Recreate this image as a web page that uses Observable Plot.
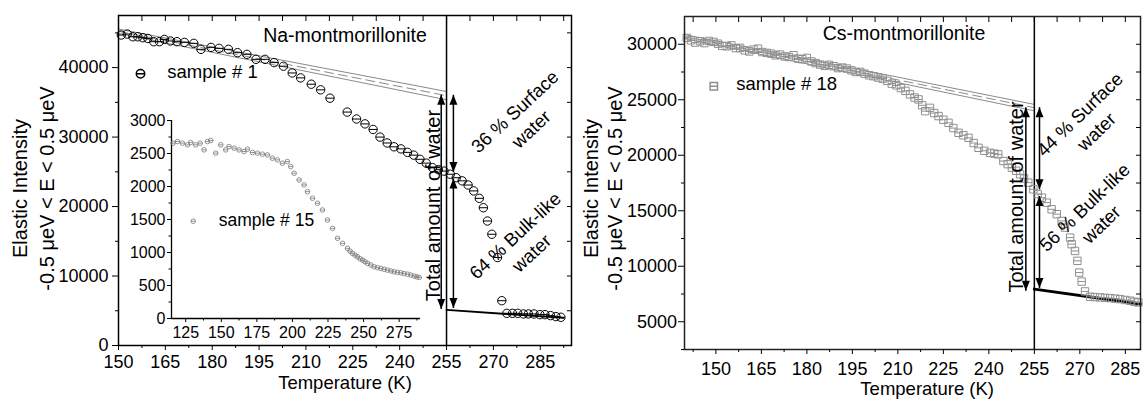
<!DOCTYPE html>
<html>
<head>
<meta charset="utf-8">
<script src="https://cdn.jsdelivr.net/npm/d3@7"></script>
<script src="https://cdn.jsdelivr.net/npm/@observablehq/plot@0.6"></script>
<style>
  body { margin: 0; background: #fff; }
  #wrap { position: relative; width: 1143px; height: 402px; font-family: "Liberation Sans", Arial, Helvetica, sans-serif; }
  #wrap > div { position: absolute; }
  #left { left: 0; top: 0; }
  #inset { left: 121px; top: 108px; }
  #right { left: 580px; top: 0; }
</style>
</head>
<body>
<div id="wrap"><div id="left"></div><div id="inset"></div><div id="right"></div></div>
<script>
// ---------------- DATA ----------------
// Na-montmorillonite, sample # 1 (Temperature K, elastic intensity)
const naT = [150.9,152.8,154.6,156.2,157.8,159.4,161.3,163.1,164.7,166.6,168.7,171.1,174.1,176.4,179.6,182.2,185.2,188.1,191.1,194.0,196.9,199.8,202.8,205.6,208.3,211.7,214.7,217.7,223.2,226.2,228.9,231.5,233.7,236.0,238.2,240.4,242.5,244.5,246.5,248.5,250.5,252.4,254.2,256.2,258.1,260.0,261.9,263.7,265.5,266.8,268.1,269.5,271.3,272.7,274.3,276.1,277.8,279.6,281.2,283.0,284.9,286.5,288.3,290.0,291.6];
const naI = [44690,44830,44440,44440,44300,44200,43730,43730,44060,43830,43730,43630,43490,42630,42910,42770,42630,42150,41910,41190,41190,40720,40200,39230,38520,37610,36800,35600,33600,32600,31900,31100,30000,29150,28600,28300,27800,27400,26800,26250,25600,25300,25100,24650,24150,23700,23100,22250,21180,19830,17920,16010,12660,6450,4630,4630,4630,4540,4540,4540,4440,4440,4300,4160,4060];

// Inset: sample # 15
const inT = [116.1,119.2,122.7,126.2,128.5,132.0,135.1,137.9,140.3,142.6,146.1,149.6,153.1,155.4,159.0,162.5,166.0,168.4,171.9,175.4,178.9,182.4,185.9,189.4,192.9,196.4,198.8,201.2,204.7,208.2,210.6,214.1,217.6,221.1,224.6,228.2,231.7,235.2,238.7,240.5,242.2,244.0,245.7,247.5,249.3,251.0,252.8,255.1,257.4,259.8,262.1,264.5,266.8,269.2,271.5,273.8,276.2,278.5,280.9,283.2,285.6,287.4,289.1];
const inI = [2657,2681,2657,2631,2666,2631,2657,2555,2681,2697,2505,2631,2555,2605,2580,2555,2530,2566,2515,2505,2490,2479,2429,2403,2353,2378,2302,2201,2100,2024,1922,1822,1746,1644,1492,1366,1215,1139,1063,1020,987,960,935,905,885,860,835,810,783,770,759,745,733,720,707,700,692,680,672,658,642,632,622];

// Cs-montmorillonite, sample # 18
const csT = [140.4,141.8,143.2,144.8,146.2,147.7,149.2,150.7,152.1,153.6,155.1,156.6,158.0,159.5,161.0,162.4,163.9,165.3,166.8,168.3,169.7,171.2,172.7,174.1,175.6,177.1,178.5,180.0,181.5,182.9,184.4,185.9,187.3,188.8,190.3,191.7,193.2,194.7,196.1,197.6,199.0,200.5,202.0,203.5,205.0,206.5,208.0,209.5,211.0,212.5,214.0,215.5,216.8,218.0,219.0,220.6,222.0,223.4,225.0,226.7,228.3,230.0,231.6,233.3,235.0,236.6,238.5,240.4,241.8,243.1,244.8,246.2,247.6,249.0,250.3,251.6,253.0,254.7,256.1,257.5,259.1,260.7,262.4,264.0,265.1,266.8,267.3,268.4,269.2,269.8,270.6,271.7,273.4,275.0,276.7,278.3,280.0,281.7,283.3,285.0,286.6,288.0,289.3];
const csI = [30570,30350,30150,30270,30100,30300,30210,30050,29850,29820,29900,29650,29670,29450,29350,29520,29600,29300,29220,29150,29000,29070,28900,28850,29010,28700,28650,28770,28450,28300,28170,28050,28150,28020,27850,27900,27810,27650,27500,27510,27350,27200,27120,27000,26900,26700,26450,26300,26050,25800,25480,25200,25030,24500,23970,24270,23800,23530,23200,22920,22450,22020,21800,21570,21100,20670,20400,20220,20150,20080,19480,19200,18880,18600,18280,17900,17530,16930,16500,16180,15730,15130,14690,14080,13480,12580,11990,11380,10490,9430,8620,7730,7250,7220,7190,7150,7130,7080,7040,6960,6890,6800,6740];

// Extrapolated low-T lines (upper, middle dashed, lower) and high-T baseline
const naUpper = [{T: 150, I: 45550}, {T: 255, I: 36560}];
const naMid   = [{T: 150, I: 45230}, {T: 255, I: 35960}];
const naLower = [{T: 150, I: 44920}, {T: 255, I: 35370}];
const naBase  = [{T: 255, I: 5120},  {T: 292.4, I: 3970}];
const csUpper = [{T: 139.7, I: 30870}, {T: 255, I: 24580}];
const csMid   = [{T: 139.7, I: 30690}, {T: 255, I: 24290}];
const csLower = [{T: 139.7, I: 30510}, {T: 255, I: 24000}];
const csBase  = [{T: 255, I: 7940},  {T: 290, I: 6590}];

// Double arrows (T, bottom I1, top I2)
const naArrows = [{T: 253.3, I1: 5260, I2: 36090}, {T: 257.2, I1: 24990, I2: 36090}, {T: 257.2, I1: 5400, I2: 24040}];
const csArrows = [{T: 252.2, I1: 7790, I2: 24335}, {T: 256.7, I1: 16930, I2: 24335}, {T: 256.7, I1: 8030, I2: 16330}];

// Annotation texts
const naNotes = [{T: 279.2, I: 32545, text: "36 % Surface\nwater"}, {T: 279.3, I: 14695, text: "64 % Bulk-like\nwater"}];
const csNotes = [{T: 272.4, I: 22986, text: "44 % Surface\nwater"}, {T: 274.0, I: 14622, text: "56 % Bulk-like\nwater"}];
const naTotal = [{T: 251.0, I: 20143, text: "Total amount of water"}];
const csTotal = [{T: 249.2, I: 16241, text: "Total amount of water"}];

// Ticks
const naXMajor = [150,165,180,195,210,225,240,255,270,285];
const naXMinor = [157.5,172.5,187.5,202.5,217.5,232.5,247.5,262.5,277.5,292.5];
const naYMajor = [0,10000,20000,30000,40000];
const naYMinor = [5000,15000,25000,35000,45000];
const inXMajor = [125,150,175,200,225,250,275];
const inXMinor = [137.5,162.5,187.5,212.5,237.5,262.5,287.5];
const inYMajor = [0,500,1000,1500,2000,2500,3000];
const inYMinor = [250,750,1250,1750,2250,2750];
const csXMajor = [150,165,180,195,210,225,240,255,270,285];
const csXMinor = [142.5,157.5,172.5,187.5,202.5,217.5,232.5,247.5,262.5,277.5];
const csYMajor = [5000,10000,15000,20000,25000,30000];
const csYMinor = [2500,7500,12500,17500,22500,27500];

const yLabel1 = "Elastic Intensity";
const yLabel2 = "-0.5 \u03BCeV < E < 0.5 \u03BCeV";
const xLabel = "Temperature (K)";

// ---------------- DRAWING ----------------
const FONT = '"Liberation Sans", Arial, Helvetica, sans-serif';
const fmt = d3.format("d");
const blank = () => "";
const zip = (T, I) => T.map((t, i) => ({T: t, I: I[i]}));

const circleBar = {draw(c, s) { const r = Math.sqrt(s / Math.PI); c.moveTo(r, 0); c.arc(0, 0, r, 0, 2 * Math.PI); c.moveTo(-r, 0); c.lineTo(r, 0); }};
const squareBar = {draw(c, s) { const r = Math.sqrt(s / Math.PI); c.rect(-r, -r, 2 * r, 2 * r); c.moveTo(-r, 0); c.lineTo(r, 0); }};
const headUp = {draw(c, s) { const r = Math.sqrt(s / Math.PI); c.moveTo(0, 0); c.lineTo(-0.8 * r, 2 * r); c.lineTo(0.8 * r, 2 * r); c.closePath(); }};
const headDown = {draw(c, s) { const r = Math.sqrt(s / Math.PI); c.moveTo(0, 0); c.lineTo(-0.8 * r, -2 * r); c.lineTo(0.8 * r, -2 * r); c.closePath(); }};

function arrows(data) {
  return [
    Plot.link(data, {x1: "T", x2: "T", y1: "I1", y2: "I2", stroke: "black", strokeWidth: 1.5}),
    Plot.dot(data, {x: "T", y: "I2", symbol: headUp, r: 5, fill: "black", stroke: "none"}),
    Plot.dot(data, {x: "T", y: "I1", symbol: headDown, r: 5, fill: "black", stroke: "none"})
  ];
}
function fits(up, mid, low, base, baseWidth) {
  return [
    Plot.line(up, {x: "T", y: "I", stroke: "#8a8a8a", strokeWidth: 1}),
    Plot.line(mid, {x: "T", y: "I", stroke: "#8a8a8a", strokeWidth: 1, strokeDasharray: "9,5"}),
    Plot.line(low, {x: "T", y: "I", stroke: "#8a8a8a", strokeWidth: 1}),
    Plot.line(base, {x: "T", y: "I", stroke: "black", strokeWidth: baseWidth})
  ];
}
function axes(xMajor, xMinor, yMajor, yMinor, opt) {
  return [
    Plot.axisX(xMajor, {tickSize: 5, tickPadding: opt.xPad, fontSize: 18, tickFormat: fmt, label: null}),
    Plot.axisX(xMinor, {tickSize: 3, tickFormat: blank, label: null}),
    Plot.axisX(xMajor.concat(xMinor), {anchor: "top", tickSize: -5, tickFormat: blank, label: null}),
    Plot.axisY(yMajor, {tickSize: 6, tickPadding: opt.yPad, fontSize: 18, tickFormat: fmt, label: null}),
    Plot.axisY(yMinor, {tickSize: 3, tickFormat: blank, label: null}),
    Plot.axisY(opt.rightTicks, {anchor: "right", tickSize: -5, tickFormat: blank, label: null})
  ];
}
const T = {x: null, y: null, text: d => d, lineAnchor: "middle"};
function labels(o) {
  return [
    Plot.text([yLabel1], {...T, frameAnchor: "left", textAnchor: "middle", dx: o.l1dx, dy: o.ldy, rotate: -90, fontSize: 20}),
    Plot.text([yLabel2], {...T, frameAnchor: "left", textAnchor: "middle", dx: o.l2dx, dy: o.ldy, rotate: -90, fontSize: 20}),
    Plot.text([xLabel], {...T, frameAnchor: "bottom", textAnchor: "middle", dx: o.xdx, dy: o.xdy, fontSize: 18.5}),
    Plot.text([o.title], {...T, frameAnchor: "top", textAnchor: "middle", dx: o.tdx, dy: o.tdy, fontSize: 19.5}),
    Plot.text([o.legend], {...T, frameAnchor: "top-left", textAnchor: "start", dx: o.legdx, dy: o.legdy, fontSize: 18.5})
  ];
}

const left = Plot.plot({
  width: 580, height: 402,
  marginLeft: 118, marginRight: 9, marginTop: 15, marginBottom: 57,
  style: {fontFamily: FONT, background: "transparent", color: "black", overflow: "visible"},
  x: {domain: [150, 295], axis: null},
  y: {domain: [0, 47500], axis: null},
  marks: [
    ...fits(naUpper, naMid, naLower, naBase, 1.8),
    Plot.ruleX([255], {stroke: "black", strokeWidth: 1.5}),
    Plot.dot(zip(naT, naI), {x: "T", y: "I", r: 4.2, symbol: circleBar, stroke: "black", fill: "none", strokeWidth: 1}),
    ...arrows(naArrows),
    Plot.frame({stroke: "black", strokeWidth: 1.5}),
    ...axes(naXMajor, naXMinor, naYMajor, naYMinor, {xPad: 5, yPad: 4, rightTicks: naYMajor.concat(naYMinor)}),
    Plot.text(naNotes, {x: "T", y: "I", text: "text", rotate: -43, fontSize: 18.5, lineHeight: 1.3}),
    Plot.text(naTotal, {x: "T", y: "I", text: "text", rotate: -90, fontSize: 20}),
    Plot.dot([0], {x: null, y: null, frameAnchor: "top-left", dx: 22, dy: 58.3, r: 4.2, symbol: circleBar, stroke: "black", fill: "none"}),
    ...labels({l1dx: -97.5, l2dx: -71.4, ldy: 8, xdx: 0, xdy: 37.5, title: "Na-montmorillonite", tdx: 0, tdy: 20, legend: "sample # 1", legdx: 48.7, legdy: 57})
  ]
});
document.getElementById("left").appendChild(left);

const inset = Plot.plot({
  width: 309, height: 234,
  marginLeft: 50, marginRight: 10, marginTop: 12, marginBottom: 24,
  style: {fontFamily: FONT, background: "transparent", color: "black", overflow: "visible"},
  x: {domain: [115, 290], axis: null},
  y: {domain: [0, 3000], axis: null},
  marks: [
    Plot.ruleX([115], {stroke: "black", strokeWidth: 1.3}),
    Plot.ruleY([0], {stroke: "black", strokeWidth: 1.3}),
    Plot.dot(zip(inT, inI), {x: "T", y: "I", r: 2.3, symbol: circleBar, stroke: "#7a7a7a", fill: "none", strokeWidth: 0.8}),
    Plot.axisX(inXMajor, {tickSize: 4, tickPadding: 4, fontSize: 16, tickFormat: fmt, label: null}),
    Plot.axisX(inXMinor, {tickSize: 2.5, tickFormat: blank, label: null}),
    Plot.axisY(inYMajor, {tickSize: 4, tickPadding: 2, fontSize: 16, tickFormat: fmt, label: null}),
    Plot.axisY(inYMinor, {tickSize: 2.5, tickFormat: blank, label: null}),
    Plot.dot([0], {x: null, y: null, frameAnchor: "top-left", dx: 21.7, dy: 100.7, r: 2.3, symbol: circleBar, stroke: "#7a7a7a", fill: "none", strokeWidth: 0.8}),
    Plot.text(["sample # 15"], {...T, frameAnchor: "top-left", dx: 47.3, dy: 99.5, textAnchor: "start", fontSize: 17.5})
  ]
});
document.getElementById("inset").appendChild(inset);

const right = Plot.plot({
  width: 563, height: 402,
  marginLeft: 104, marginRight: 3, marginTop: 16, marginBottom: 53,
  style: {fontFamily: FONT, background: "transparent", color: "black", overflow: "visible"},
  x: {domain: [139.65, 290], axis: null},
  y: {domain: [2500, 32500], axis: null},
  marks: [
    ...fits(csUpper, csMid, csLower, csBase, 3),
    Plot.ruleX([255], {stroke: "black", strokeWidth: 1.5}),
    Plot.dot(zip(csT, csI), {x: "T", y: "I", r: 3.7, symbol: squareBar, stroke: "#8f8f8f", fill: "none", strokeWidth: 1}),
    ...arrows(csArrows),
    Plot.frame({stroke: "#222", strokeWidth: 1.5}),
    ...axes(csXMajor, csXMinor, csYMajor, csYMinor, {xPad: 7.5, yPad: 1.5, rightTicks: csYMajor.concat(csYMinor)}),
    Plot.text(csNotes, {x: "T", y: "I", text: "text", rotate: -44, fontSize: 18.5, lineHeight: 1.3}),
    Plot.text(csTotal, {x: "T", y: "I", text: "text", rotate: -90, fontSize: 20}),
    Plot.dot([0], {x: null, y: null, frameAnchor: "top-left", dx: 29.3, dy: 69.7, r: 3.7, symbol: squareBar, stroke: "#8f8f8f", fill: "none"}),
    ...labels({l1dx: -93.4, l2dx: -68.7, ldy: 5.5, xdx: 14.7, xdy: 39.5, title: "Cs-montmorillonite", tdx: -8.5, tdy: 17.6, legend: "sample # 18", legdx: 51.7, legdy: 67.6})
  ]
});
document.getElementById("right").appendChild(right);
</script>
</body>
</html>
